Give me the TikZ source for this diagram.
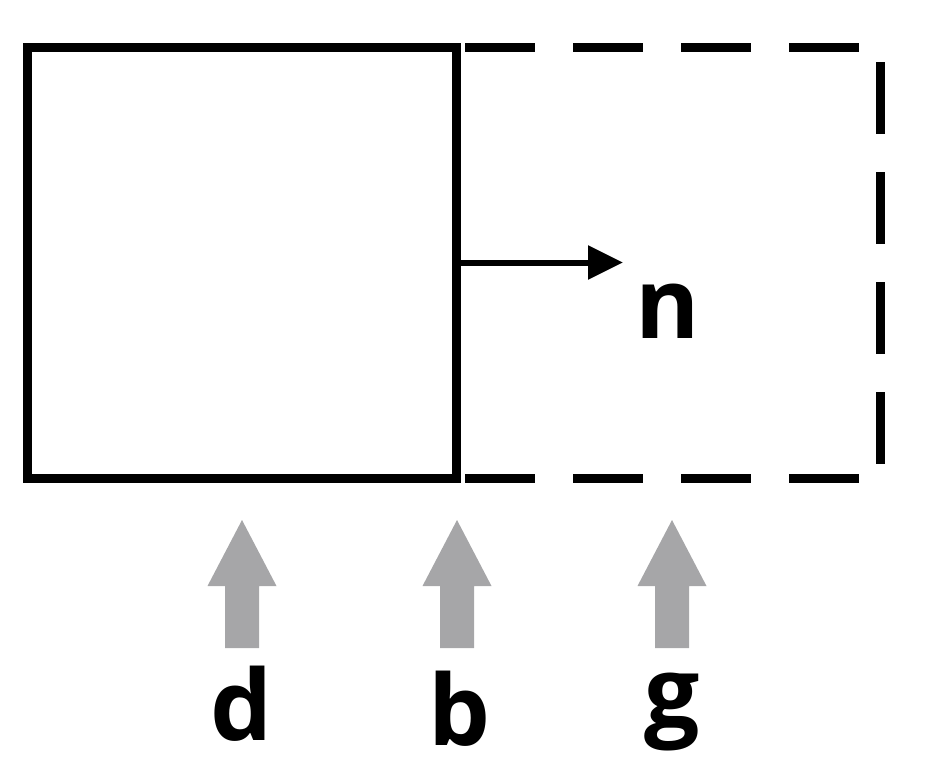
\documentclass[tikz,border=0pt]{standalone}
\usepackage{fontspec}
\setmainfont{Open Sans}
\usetikzlibrary{arrows.meta,calc,positioning}
\definecolor{pointergray}{RGB}{166,166,168}

\begin{document}
\begin{tikzpicture}[x=1pt, y=-1pt]
        \tikzstyle{wall}=[line width=9pt, line join=miter]
        \tikzstyle{ghost}=[line width=9pt]
        \tikzstyle{letter}=[font=\fontsize{98}{100}\selectfont\bfseries, inner sep=0pt, anchor=base]

        \useasboundingbox (0,0) rectangle (931,782);

        % Corners of the box
        \coordinate (tl) at (27,47);
        \coordinate (tr) at (456,47);
        \coordinate (br) at (456,478);
        \coordinate (bl) at (27,478);

        % Corners of the shifted box
        \coordinate (ttr) at (880,47);
        \coordinate (tbr) at (880,478);

        % Draw the box
        \draw[wall] (tl) rectangle (br);

        % Dashed continuation of the box
        \draw[ghost, dash pattern=on 70pt off 38pt, dash phase=99pt] (tr) -- (ttr);
        \draw[ghost, dash pattern=on 70pt off 38pt, dash phase=99pt] (br) -- (tbr);
        \draw[ghost, dash pattern=on 72pt off 38pt, dash phase=95pt] (ttr) -- (tbr);

        % Normal vector on the right side
        \coordinate (foot) at ($(tr)!0.5!(br)$);
        \coordinate (tip) at ($(foot)+(167,0)$);
        \draw[line width=6pt, -{Triangle[length=35pt, width=33pt]}] (foot) -- (tip);
        \node[letter] (n) at (668,338) {n};

        % Grey pointers below the box
        \foreach \x in {242,457,672}
            \fill[pointergray] (\x-17,648) -- (\x-17,586) -- (\x-34.5,586) -- (\x,520)
                -- (\x+34.5,586) -- (\x+17,586) -- (\x+17,648) -- cycle;

        % Labels
        \node[letter] (d) at (242,740) {d};
        \node[letter] (b) at (460,745) {b};
        \node[letter] (g) at (672,727) {g};
\end{tikzpicture}
\end{document}
